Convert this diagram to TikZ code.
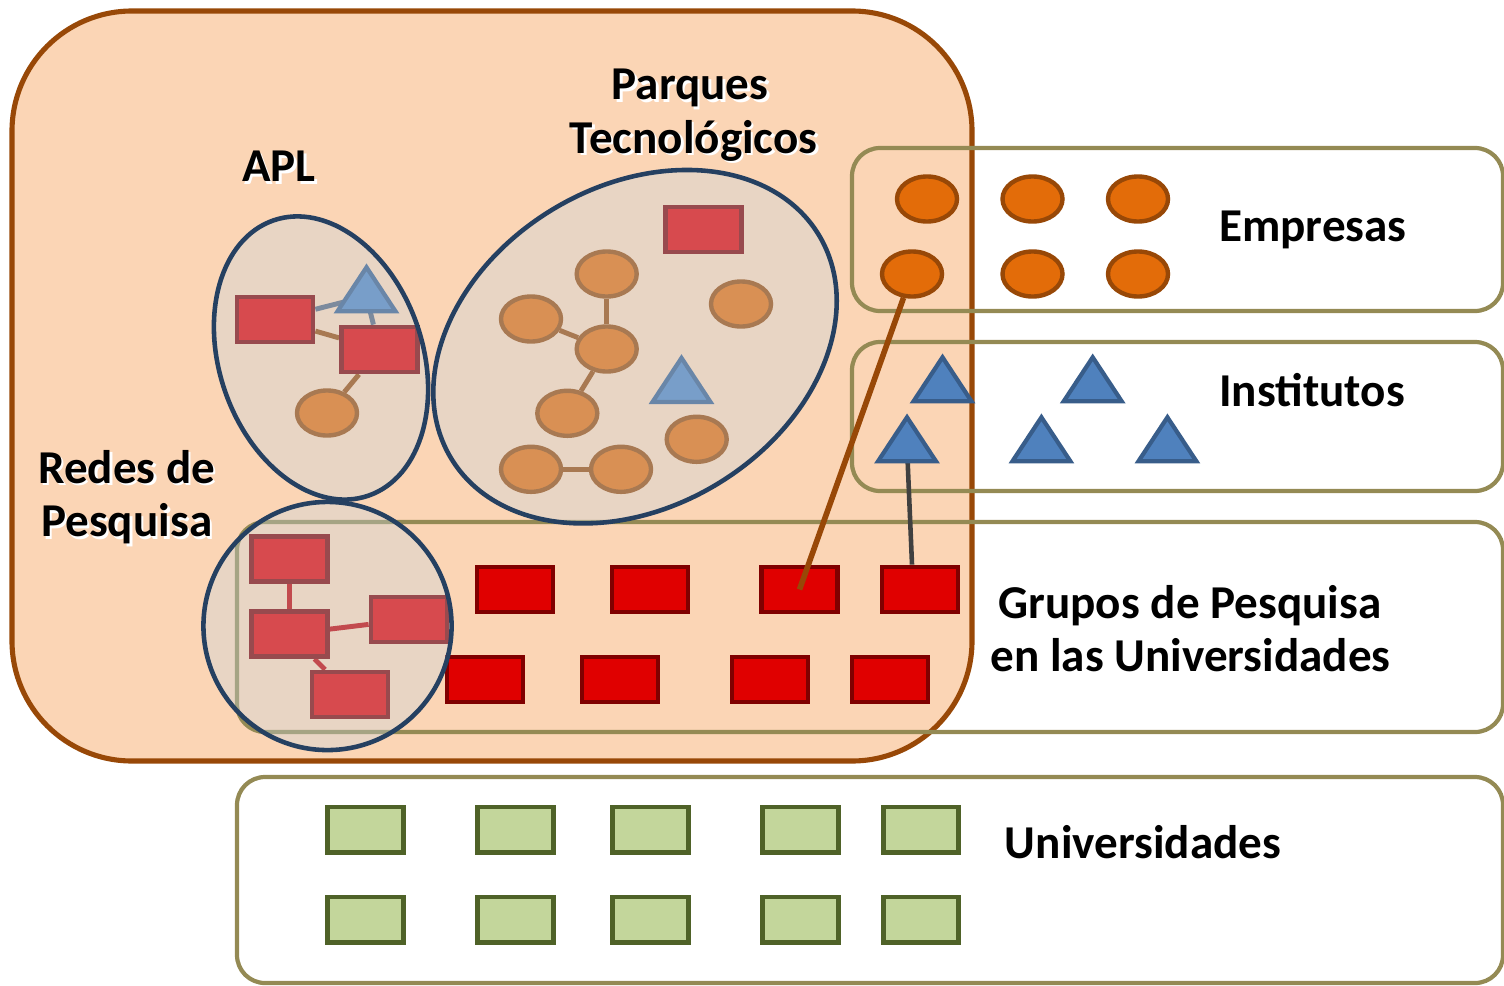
\documentclass[tikz,border=0pt]{standalone}
\usepackage{fontspec}
\setmainfont{Carlito}
\usetikzlibrary{shapes.geometric}
\pgfdeclarelayer{back}
\pgfdeclarelayer{links}
\pgfsetlayers{back,links,main}
\definecolor{bigfill}{HTML}{FBD5B5}
\definecolor{bigline}{HTML}{984807}
\definecolor{olive}{HTML}{948A54}
\definecolor{navy}{HTML}{254061}
\definecolor{veil}{HTML}{C7D5E0}
\definecolor{orgfill}{HTML}{E36C09}
\definecolor{redfill}{HTML}{E00000}
\definecolor{redline}{HTML}{800000}
\definecolor{bluefill}{HTML}{4F81BD}
\definecolor{blueline}{HTML}{385D8A}
\definecolor{grnfill}{HTML}{C3D69B}
\definecolor{grnline}{HTML}{4F6228}
\definecolor{linkgray}{HTML}{55627A}
\definecolor{linkred}{HTML}{C00000}
\definecolor{darkgraylink}{HTML}{404040}
\newcommand\shd[1]{\makebox[0pt][l]{\kern0.7pt\raisebox{-0.7pt}[0pt][0pt]{\textcolor{white}{#1}}}#1}
\tikzset{
  grpbox/.style={draw=olive, line width=1.2pt, rounded corners=2.8mm},
  redbox/.style={rectangle, draw=redline, fill=redfill, line width=1.35pt, minimum width=7.6mm, minimum height=4.5mm, inner sep=0pt},
  grnbox/.style={rectangle, draw=grnline, fill=grnfill, line width=1.42pt, minimum width=7.5mm, minimum height=4.5mm, inner sep=0pt},
  orgdot/.style={ellipse, draw=bigline, fill=orgfill, line width=1.25pt, minimum width=6mm, minimum height=4.5mm, inner sep=0pt},
  trishape/.style={draw=blueline, fill=bluefill, line width=1.2pt},
  pics/blutri/.style={code={\draw[trishape] (0,-29) -- (29,15) -- (-29,15) -- cycle;}},
  cluster/.style={draw=navy, line width=1.3pt, fill=veil, fill opacity=0.35},
  link/.style={line width=1.4pt},
  lbl/.style={font=\fontsize{13.4}{16}\selectfont\bfseries, anchor=base, inner sep=0pt},
}
\begin{document}
\begin{tikzpicture}[x=0.01cm,y=-0.01cm]
\useasboundingbox (0,0) rectangle (1504,985);
\begin{pgfonlayer}{back}
\draw[fill=bigfill, draw=bigline, line width=1.45pt, rounded corners=12mm] (12,11) rectangle (972,761);
\draw[grpbox] (852,148) rectangle (1503,311);
\draw[grpbox] (852,342) rectangle (1503,491);
\draw[grpbox] (237,522) rectangle (1503,732);
\draw[grpbox] (237,777) rectangle (1503,983);
\end{pgfonlayer}

% Empresas
\node[orgdot] (c1) at (927,199) {};
\node[orgdot] (c2) at (1032.5,199) {};
\node[orgdot] (c3) at (1138,199) {};
\node[orgdot] (c4) at (912,274) {};
\node[orgdot] (c5) at (1032.5,274) {};
\node[orgdot] (c6) at (1138,274) {};

% Institutos
\coordinate (t1) at (942.5,386.3);
\coordinate (t2) at (1092.7,386.3);
\coordinate (t3) at (907,446.3);
\coordinate (t4) at (1041.4,446.3);
\coordinate (t5) at (1167.4,446.3);
\foreach \t in {t1,t2,t3,t4,t5} {\pic at (\t) {blutri};}

% Grupos de Pesquisa
\node[redbox] (g1) at (515,589.5) {};
\node[redbox] (g2) at (650,589.5) {};
\node[redbox] (g3) at (799.5,589.5) {};
\node[redbox] (g4) at (920,589.5) {};
\node[redbox] (g5) at (485,679.5) {};
\node[redbox] (g6) at (620,679.5) {};
\node[redbox] (g7) at (770,679.5) {};
\node[redbox] (g8) at (890,679.5) {};

\begin{pgfonlayer}{links}
\draw[draw=darkgraylink, line width=1.3pt] (t3) -- ([xshift=-0.08cm]g4.north);
\end{pgfonlayer}
\draw[draw=bigline, line width=1.6pt] (c4) -- (g3.center);

% Universidades
\foreach \x [count=\i] in {365.5,515.5,650.5,800.5,920.7} {
  \node[grnbox] (u\i) at (\x,829.5) {};
  \node[grnbox] (v\i) at (\x,919.5) {};
}

% APL
\node[redbox] (a1) at (275,319.5) {};
\node[redbox] (a2) at (379.5,349.5) {};
\coordinate (at) at (366.5,296.3);
\pic at (at) {blutri};
\node[orgdot] (a3) at (327,413) {};
\begin{pgfonlayer}{links}
\draw[link, linkgray] (a1) -- (at);
\draw[link, bigline] (a1) -- (a2);
\draw[link, linkgray] (at) -- (a2);
\draw[link, bigline] (a2) -- (a3);
\end{pgfonlayer}
\path[cluster, rotate around={19:(321,358)}] (321,358) ellipse [x radius=1.015cm, y radius=1.455cm];

% Parques Tecnologicos
\node[redbox] (p0) at (703.5,229.5) {};
\node[orgdot] (p1) at (606.7,274) {};
\node[orgdot] (p2) at (531,319) {};
\node[orgdot] (p3) at (606.7,349) {};
\node[orgdot] (p4) at (741,304) {};
\node[orgdot] (p5) at (567.3,413.3) {};
\node[orgdot] (p6) at (696.7,439.3) {};
\node[orgdot] (p7) at (531,469.3) {};
\node[orgdot] (p8) at (621,469.3) {};
\coordinate (pt) at (681.5,387);
\pic at (pt) {blutri};
\begin{pgfonlayer}{links}
\draw[link, bigline] (p1) -- (p3);
\draw[link, bigline] (p2) -- (p3);
\draw[link, bigline] (p3) -- (p5);
\draw[link, bigline] (p7) -- (p8);
\end{pgfonlayer}
\path[cluster, rotate around={31.4:(635,346.7)}] (635,346.7) ellipse [x radius=2.15cm, y radius=1.6cm];

% Redes de Pesquisa
\node[redbox] (r1) at (289.5,559) {};
\node[redbox] (r2) at (289.5,634) {};
\node[redbox] (r3) at (409,619.5) {};
\node[redbox] (r4) at (350,694.5) {};
\begin{pgfonlayer}{links}
\draw[link, linkred] (r1) -- (r2);
\draw[link, linkred] (r2) -- (r3);
\draw[link, linkred] (r2) -- (r4);
\end{pgfonlayer}
\path[cluster] (327.5,626) circle [radius=1.24cm];

% Labels
\node[lbl] (lEmp) at (1313,241.7) {Empresas};
\node[lbl] (lInst) at (1312,406.7) {Institutos};
\node[lbl] (lGr1) at (1190,618) {Grupos de Pesquisa};
\node[lbl] (lGr2) at (1190.5,671.7) {en las Universidades};
\node[lbl] (lUni) at (1143,858.3) {Universidades};
\node[lbl] (lPq1) at (690,100) {\shd{Parques}};
\node[lbl] (lPq2) at (693.6,153) {\shd{Tecnológicos}};
\node[lbl] (lAPL) at (279,181.7) {\shd{APL}};
\node[lbl] (lRd1) at (126.7,483.3) {\shd{Redes de}};
\node[lbl] (lRd2) at (126.7,536.7) {\shd{Pesquisa}};
\end{tikzpicture}
\end{document}
